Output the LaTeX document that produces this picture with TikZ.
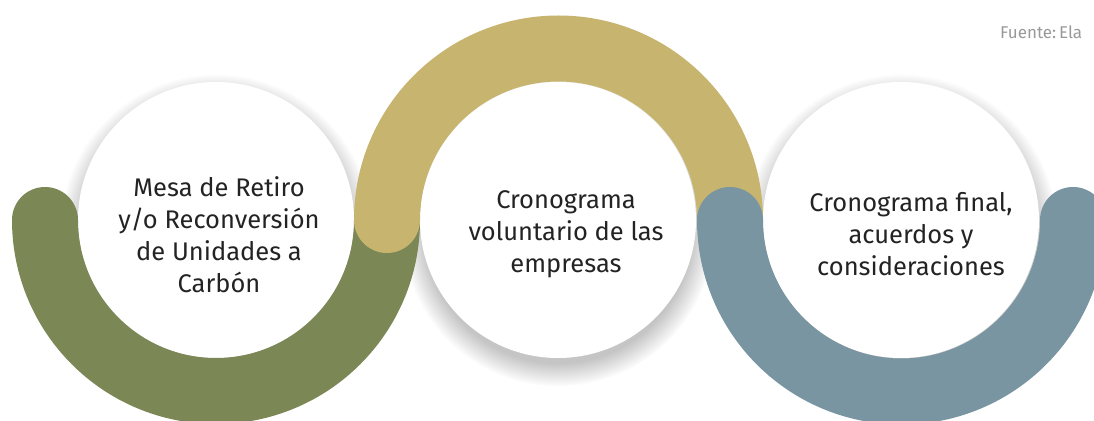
\documentclass[tikz,border=0pt]{standalone}
\usepackage{fontspec}
\setmainfont{Fira Sans}
\usepackage{xcolor}
\usepackage{tikz}
\usetikzlibrary{shadows, positioning}

\definecolor{verdeArco}{RGB}{123,135,85}
\definecolor{oroArco}{RGB}{199,180,110}
\definecolor{azulArco}{RGB}{120,149,161}
\definecolor{textoGris}{RGB}{35,35,35}

\tikzset{
  etapa/.style={circle, fill=white, minimum size=276pt, inner sep=0pt,
    circular drop shadow={shadow xshift=0pt, shadow yshift=-9pt, shadow scale=1.13, opacity=0.45}},
  texto/.style={align=center, text=textoGris, font=\fontsize{25.5}{32}\selectfont},
  arco/.style={line width=66pt, line cap=round},
}

\begin{document}
\begin{tikzpicture}[x=1pt, y=1pt]
    \useasboundingbox (0, 0) rectangle (1094, -420);
    \fill[white] (0, 0) rectangle (1094, -420);

    \node[etapa] (mesa) at (216, -220) {};
    \node[etapa] (voluntario) at (558, -220) {};
    \node[etapa] (final) at (901, -220) {};

    \draw[arco, color=verdeArco] (45, -220) arc[start angle=180, end angle=360, radius=171];
    \draw[arco, color=oroArco] (387, -220) arc[start angle=180, end angle=0, radius=171.5];
    \draw[arco, color=azulArco] (730, -220) arc[start angle=180, end angle=360, radius=171.5];

    \node[texto] (mesaTxt) at (219, -235) {Mesa de Retiro \\ y/o Reconversión \\ de Unidades a \\ Carbón};
    \node[texto] (voluntarioTxt) at (566, -234) {Cronograma \\ voluntario de las \\ empresas};
    \node[texto] (finalTxt) at (911, -234) {Cronograma final, \\ acuerdos y \\ consideraciones};

    \node[anchor=west, inner sep=0pt, text=black!40, font=\fontsize{17}{20}\selectfont] (fuente) at (1000, -32) {Fuente:\,Ela};
\end{tikzpicture}
\end{document}
